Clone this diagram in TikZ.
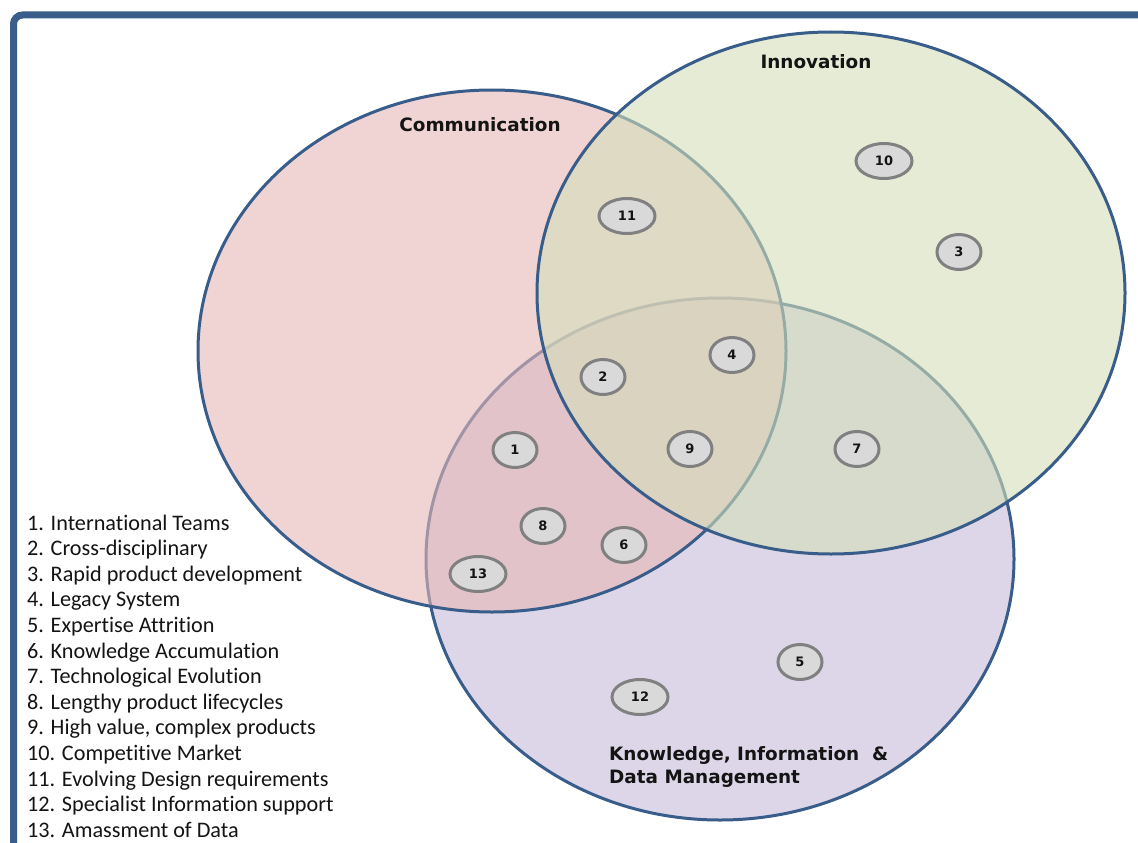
\documentclass[tikz,border=0pt]{standalone}
\usepackage{fontspec}
\setmainfont{Carlito}[Ligatures=NoCommon]
\newfontfamily\headfont{DejaVu Sans}
\usetikzlibrary{shapes.geometric}
\definecolor{framecol}{RGB}{58,94,140}
\definecolor{rimcol}{RGB}{56,93,138}
\definecolor{commcol}{RGB}{230,183,183}
\definecolor{innocol}{RGB}{212,223,185}
\definecolor{kidmcol}{RGB}{198,187,217}
\definecolor{itemfill}{RGB}{217,217,217}
\definecolor{itemrim}{RGB}{128,128,128}
\definecolor{inkcol}{RGB}{20,20,20}
\tikzset{
  x=1pt, y=-1pt,
  setfill/.style={fill=#1, fill opacity=0.6},
  setrim/.style={draw=rimcol, line width=3pt},
  item/.style={ellipse, draw=itemrim, line width=3pt, fill=itemfill,
    minimum width=44pt, minimum height=35pt, inner sep=0pt,
    font=\headfont\bfseries\fontsize{13}{15}\selectfont, text=inkcol},
  wideitem/.style={item, minimum width=56pt},
  setlabel/.style={font=\headfont\bfseries\fontsize{18.4}{22}\selectfont, text=inkcol, inner sep=0pt},
  keyline/.style={font=\fontsize{22.2}{25.6}\selectfont, text=inkcol, anchor=base west, inner sep=0pt}
}
\begin{document}
\begin{tikzpicture}
\useasboundingbox (0,0) rectangle (1138,843);
\fill[white] (0,0) rectangle (1138,843);
\begin{scope}
\clip (0,0) rectangle (1138,843);
% outer frame, open to the right and bottom
\draw[framecol, line width=7pt, rounded corners=9pt] (13.5,15) rectangle (1200,900);
\end{scope}

% the three sets, lowest first
\fill[setfill=kidmcol] (720,559) ellipse [x radius=294, y radius=261];
\draw[setrim] (720,559) ellipse [x radius=294, y radius=261];
\fill[setfill=commcol] (492,351) ellipse [x radius=294, y radius=261];
\draw[setrim] (492,351) ellipse [x radius=294, y radius=261];
\fill[setfill=innocol] (831,293) ellipse [x radius=294, y radius=261];
\draw[setrim] (831,293) ellipse [x radius=294, y radius=261];

% set labels
\node[setlabel] (lcomm) at (480,125) {Communication};
\node[setlabel] (linno) at (816,62) {Innovation};
\node[setlabel, anchor=base west] (lkidm1) at (609,760) {Knowledge, Information\ \ \&};
\node[setlabel, anchor=base west] (lkidm2) at (609,783) {Data Management};

% numbered factors
\node[item] (i1) at (515,450) {1};
\node[item] (i2) at (603,377) {2};
\node[item] (i3) at (959,252) {3};
\node[item] (i4) at (732,355) {4};
\node[item] (i5) at (800,662) {5};
\node[item] (i6) at (624,545) {6};
\node[item] (i7) at (857,449) {7};
\node[item] (i8) at (543,526) {8};
\node[item] (i9) at (690,449) {9};
\node[wideitem] (i10) at (884,161) {10};
\node[wideitem] (i11) at (627,216) {11};
\node[wideitem] (i12) at (640,697) {12};
\node[wideitem] (i13) at (478,574) {13};

% key
\foreach \n/\txt in {1/International Teams, 2/Cross-disciplinary,
  3/Rapid product development, 4/Legacy System, 5/Expertise Attrition,
  6/Knowledge Accumulation, 7/Technological Evolution,
  8/Lengthy product lifecycles, 9/{High value, complex products},
  10/Competitive Market, 11/Evolving Design requirements,
  12/Specialist Information support, 13/Amassment of Data}
  \node[keyline] (key\n) at (27,{530+25.6*(\n-1)}) {\n. \txt};
\end{tikzpicture}
\end{document}
